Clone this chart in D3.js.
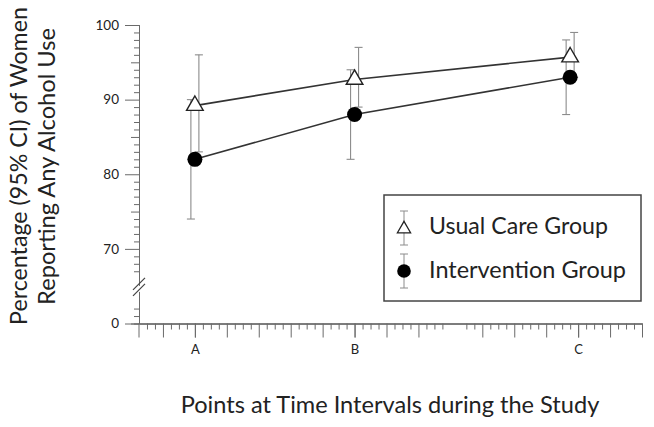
<!DOCTYPE html>
<html>
<head>
<meta charset="utf-8">
<script src="https://cdn.jsdelivr.net/npm/d3@7"></script>
<style>
  body { margin: 0; background: #fff; }
  text { font-family: Lato, "Open Sans", sans-serif; fill: #222; }
</style>
</head>
<body>
<svg id="chart" width="654" height="427"></svg>
<script>
// time points (positions on the interval axis) and their labels
const timeLabels = ["A", "B", "C"]
const labelPositions = [2, 7, 14]
const pointPositions = [2, 7, 13.75]

// usual care group (triangles)
const usualCare = [89.2, 92.7, 95.7]
const usualLow = [83, 89, 93]
const usualHigh = [96, 97, 99]

// intervention group (circles)
const intervention = [82, 88, 93]
const interventionLow = [74, 82, 88]
const interventionHigh = [90, 94, 98]

// y axis: the 0..70 range is cut, "0" sits where 60 would be
const yTickValues = [60, 70, 80, 90, 100]
const yTickLabels = ["0", "70", "80", "90", "100"]

const legendLabels = ["Usual Care Group", "Intervention Group"]

const svg = d3.select("#chart")

const x = d3.scaleLinear().domain([0.25, 16]).range([139, 642])
const y = d3.scaleLinear().domain([60, 100]).range([323.5, 25])

const axisColor = "#6a6a6a"
const barColor = "#8c8c8c"
const dodge = 4

// minor y ticks, leaving a gap for the break
const yMinor = d3.range(61, 100).filter(v => v % 10 !== 0 && (v < 63 || v > 66))
svg.append("g")
    .attr("transform", `translate(${x.range()[0]},0)`)
    .call(d3.axisLeft(y).tickValues(yMinor.filter(v => v % 5 !== 0)).tickSize(5).tickFormat(""))
svg.append("g")
    .attr("transform", `translate(${x.range()[0]},0)`)
    .call(d3.axisLeft(y).tickValues(yMinor.filter(v => v % 5 === 0)).tickSize(8).tickFormat(""))
svg.append("g")
    .attr("class", "y-major")
    .attr("transform", `translate(${x.range()[0]},0)`)
    .call(d3.axisLeft(y).tickValues(yTickValues).tickSize(14).tickPadding(6)
        .tickSizeOuter(0).tickFormat((d, i) => yTickLabels[i]))

// x ticks
const xMinor = d3.range(0.5, 16, 0.25).filter(v => v % 1 !== 0 && (v < 9.8 || v > 10.3))
const xMajor = d3.range(1, 17).filter(v => v !== 10)
svg.append("g")
    .attr("transform", `translate(0,${y.range()[0]})`)
    .call(d3.axisBottom(x).tickValues(xMinor).tickSize(6).tickFormat("").tickSizeOuter(0))
svg.append("g")
    .attr("transform", `translate(0,${y.range()[0]})`)
    .call(d3.axisBottom(x).tickValues(xMajor).tickSize(14).tickFormat("").tickSizeOuter(0))
svg.append("g")
    .attr("class", "x-labels")
    .attr("transform", `translate(0,${y.range()[0]})`)
    .call(d3.axisBottom(x).tickValues(labelPositions).tickSize(14).tickPadding(7)
        .tickSizeOuter(0).tickFormat((d, i) => timeLabels[i]))

// y axis line continues below the x axis like the origin tick
svg.append("line")
    .attr("x1", x.range()[0]).attr("x2", x.range()[0])
    .attr("y1", y.range()[0]).attr("y2", y.range()[0] + 14)
    .attr("stroke", axisColor)

svg.selectAll(".domain, .tick line").attr("stroke", axisColor)
svg.selectAll(".tick text").attr("font-size", 13).attr("fill", "#333")
svg.selectAll(".y-major .tick text").attr("font-size", 13.5)

// axis break marks
const breakY = y(64.5)
svg.append("rect")
    .attr("x", x.range()[0] - 2).attr("y", breakY - 4)
    .attr("width", 4).attr("height", 6).attr("fill", "#fff")
;[0, 6].forEach(off => {
    svg.append("line")
        .attr("x1", x.range()[0] - 6).attr("y1", breakY + 6 - off)
        .attr("x2", x.range()[0] + 6).attr("y2", breakY - 6 - off)
        .attr("stroke", "#444").attr("stroke-width", 1.2)
})

// error bars
function errorBars(lo, hi, shift, cls) {
    const g = svg.append("g").attr("class", cls)
    pointPositions.forEach((p, i) => {
        const cx = x(p) + shift
        g.append("line")
            .attr("x1", cx).attr("x2", cx)
            .attr("y1", y(lo[i])).attr("y2", y(hi[i]))
            .attr("stroke", barColor).attr("stroke-width", 1.1)
        ;[lo[i], hi[i]].forEach(v => {
            g.append("line")
                .attr("x1", cx - 4).attr("x2", cx + 4)
                .attr("y1", y(v)).attr("y2", y(v))
                .attr("stroke", barColor).attr("stroke-width", 1.1)
        })
    })
}
errorBars(interventionLow, interventionHigh, -dodge, "bars-int")
errorBars(usualLow, usualHigh, dodge, "bars-usual")

// connecting lines
const line = d3.line()
    .x((d, i) => x(pointPositions[i]))
    .y(d => y(d))

svg.append("path")
    .datum(usualCare)
    .attr("d", line)
    .attr("fill", "none")
    .attr("stroke", "#333")
    .attr("stroke-width", 1.6)

svg.append("path")
    .datum(intervention)
    .attr("d", line)
    .attr("fill", "none")
    .attr("stroke", "#333")
    .attr("stroke-width", 1.6)

// markers
svg.selectAll(".tri")
    .data(usualCare)
    .enter().append("path")
    .attr("class", "tri")
    .attr("d", d3.symbol(d3.symbolTriangle, 120))
    .attr("transform", (d, i) => `translate(${x(pointPositions[i])},${y(d)})`)
    .attr("fill", "#fff")
    .attr("stroke", "#222")
    .attr("stroke-width", 1.4)

svg.selectAll(".dot")
    .data(intervention)
    .enter().append("circle")
    .attr("class", "dot")
    .attr("cx", (d, i) => x(pointPositions[i]))
    .attr("cy", d => y(d))
    .attr("r", 7.5)
    .attr("fill", "#000")

// fit a text element to a measured width
function fitWidth(sel, target) {
    const base = parseFloat(sel.attr("font-size"))
    const w = sel.node().getComputedTextLength()
    sel.attr("font-size", base * target / w)
}

// legend
const legend = svg.append("g")
legend.append("rect")
    .attr("x", 384).attr("y", 195)
    .attr("width", 257).attr("height", 106)
    .attr("fill", "#fff")
    .attr("stroke", "#444")
    .attr("stroke-width", 1.5)

const legendRows = [228, 271]
legendRows.forEach((ly, i) => {
    const lx = 404
    legend.append("line")
        .attr("x1", lx).attr("x2", lx)
        .attr("y1", ly - 17).attr("y2", ly + 17)
        .attr("stroke", barColor)
    ;[ly - 17, ly + 17].forEach(v => {
        legend.append("line")
            .attr("x1", lx - 4).attr("x2", lx + 4)
            .attr("y1", v).attr("y2", v)
            .attr("stroke", barColor)
    })
    if (i === 0) {
        legend.append("path")
            .attr("d", d3.symbol(d3.symbolTriangle, 75))
            .attr("transform", `translate(${lx},${ly + 1})`)
            .attr("fill", "#fff").attr("stroke", "#222").attr("stroke-width", 1.3)
    } else {
        legend.append("circle")
            .attr("cx", lx).attr("cy", ly).attr("r", 6.8).attr("fill", "#000")
    }
    const t = legend.append("text")
        .attr("x", 429).attr("y", ly + 6 + i * 1)
        .attr("font-size", 21)
        .text(legendLabels[i])
    fitWidth(t, i === 0 ? 179 : 197)
})

// axis titles
const xTitle = svg.append("text")
    .attr("x", 390).attr("y", 413)
    .attr("text-anchor", "middle")
    .attr("font-size", 24)
    .text("Points at Time Intervals during the Study")
fitWidth(xTitle, 419)

const yTitle1 = svg.append("text")
    .attr("transform", "translate(27,166) rotate(-90)")
    .attr("text-anchor", "middle")
    .attr("font-size", 24)
    .text("Percentage (95% CI) of Women")
fitWidth(yTitle1, 318)

const yTitle2 = svg.append("text")
    .attr("transform", "translate(55,166.5) rotate(-90)")
    .attr("text-anchor", "middle")
    .attr("font-size", 24)
    .text("Reporting Any Alcohol Use")
fitWidth(yTitle2, 277)
</script>
</body>
</html>
